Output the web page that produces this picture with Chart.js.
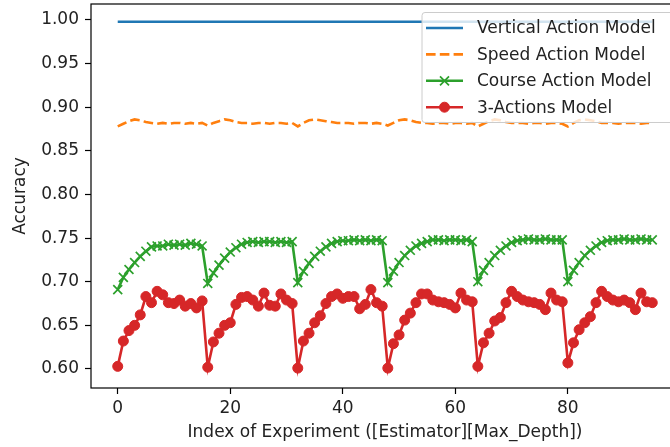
<!DOCTYPE html>
<html>
<head>
<meta charset="utf-8">
<script src="https://cdn.jsdelivr.net/npm/chart.js@4.4.1/dist/chart.umd.min.js"></script>
<style>
  html, body { margin: 0; padding: 0; background: #fff; overflow: hidden; }
  #wrap { width: 690px; height: 447px; }
</style>
</head>
<body>
<div id="wrap"><canvas id="grafico" width="690" height="447"></canvas></div>
<script>
const indices = [
  0,1,2,3,4,5,6,7,8,9,10,11,12,13,14,15,
  16,17,18,19,20,21,22,23,24,25,26,27,28,29,30,31,
  32,33,34,35,36,37,38,39,40,41,42,43,44,45,46,47,
  48,49,50,51,52,53,54,55,56,57,58,59,60,61,62,63,
  64,65,66,67,68,69,70,71,72,73,74,75,76,77,78,79,
  80,81,82,83,84,85,86,87,88,89,90,91,92,93,94,95
];
const vertical = [
  0.998,0.998,0.998,0.998,0.998,0.998,0.998,0.998,0.998,0.998,0.998,0.998,0.998,0.998,0.998,0.998,
  0.998,0.998,0.998,0.998,0.998,0.998,0.998,0.998,0.998,0.998,0.998,0.998,0.998,0.998,0.998,0.998,
  0.998,0.998,0.998,0.998,0.998,0.998,0.998,0.998,0.998,0.998,0.998,0.998,0.998,0.998,0.998,0.998,
  0.998,0.998,0.998,0.998,0.998,0.998,0.998,0.998,0.998,0.998,0.998,0.998,0.998,0.998,0.998,0.998,
  0.998,0.998,0.998,0.998,0.998,0.998,0.998,0.998,0.998,0.998,0.998,0.998,0.998,0.998,0.998,0.998,
  0.998,0.998,0.998,0.998,0.998,0.998,0.998,0.998,0.998,0.998,0.998,0.998,0.998,0.998,0.998,0.998
];
const speed = [
  0.878,0.881,0.884,0.886,0.885,0.883,0.882,0.881,0.882,0.881,0.882,0.882,0.881,0.882,0.881,0.882,
  0.879,0.882,0.884,0.886,0.885,0.883,0.882,0.882,0.881,0.882,0.882,0.881,0.882,0.882,0.881,0.882,
  0.878,0.882,0.885,0.886,0.885,0.884,0.883,0.882,0.882,0.882,0.881,0.882,0.882,0.881,0.882,0.881,
  0.879,0.882,0.885,0.886,0.885,0.883,0.882,0.882,0.881,0.882,0.882,0.881,0.882,0.882,0.881,0.882,
  0.878,0.881,0.884,0.886,0.885,0.883,0.882,0.882,0.882,0.881,0.882,0.882,0.881,0.882,0.882,0.881,
  0.878,0.882,0.885,0.886,0.885,0.884,0.882,0.882,0.882,0.881,0.882,0.882,0.882,0.881,0.882,0.882
];
const course = [
  0.691,0.705,0.714,0.722,0.729,0.735,0.740,0.741,0.741,0.743,0.742,0.743,0.742,0.744,0.743,0.741,
  0.698,0.710,0.719,0.727,0.734,0.739,0.743,0.745,0.746,0.745,0.746,0.746,0.745,0.746,0.745,0.746,
  0.699,0.712,0.721,0.729,0.735,0.740,0.744,0.746,0.747,0.747,0.748,0.747,0.748,0.747,0.748,0.747,
  0.699,0.712,0.722,0.730,0.736,0.741,0.744,0.746,0.748,0.748,0.747,0.748,0.748,0.747,0.748,0.746,
  0.700,0.713,0.722,0.730,0.736,0.741,0.745,0.747,0.748,0.749,0.748,0.748,0.749,0.748,0.748,0.748,
  0.700,0.713,0.722,0.730,0.736,0.741,0.745,0.747,0.748,0.748,0.749,0.748,0.748,0.749,0.748,0.748
];
const tresAcoes = [
  0.603,0.632,0.644,0.650,0.662,0.683,0.676,0.689,0.685,0.676,0.675,0.679,0.672,0.675,0.670,0.678,
  0.602,0.631,0.641,0.650,0.653,0.674,0.682,0.683,0.679,0.672,0.687,0.673,0.672,0.686,0.679,0.675,
  0.601,0.632,0.641,0.653,0.661,0.675,0.683,0.686,0.681,0.683,0.683,0.669,0.674,0.691,0.676,0.672,
  0.601,0.629,0.639,0.656,0.664,0.676,0.686,0.686,0.679,0.677,0.676,0.674,0.670,0.687,0.679,0.677,
  0.603,0.630,0.641,0.655,0.659,0.676,0.689,0.683,0.679,0.677,0.676,0.674,0.668,0.687,0.679,0.677,
  0.607,0.630,0.645,0.653,0.660,0.676,0.689,0.683,0.679,0.677,0.679,0.676,0.668,0.687,0.677,0.676
];
const ticksX = [0, 20, 40, 60, 80];
const ticksY = [0.60, 0.65, 0.70, 0.75, 0.80, 0.85, 0.90, 0.95, 1.00];

function juntaPontos(valores){
    return indices.map((x, i) => ({ x: x, y: valores[i] }));
}

Chart.defaults.font.family = "'DejaVu Sans', sans-serif";
Chart.defaults.font.size = 17;
Chart.defaults.color = '#222';

// moldura em volta da area do grafico
const moldura = {
  id: 'moldura',
  afterDatasetsDraw(chart){
    const { ctx, chartArea: a } = chart;
    ctx.save();
    ctx.strokeStyle = '#000';
    ctx.lineWidth = 1.2;
    ctx.strokeRect(a.left, a.top, a.right - a.left, a.bottom - a.top);
    ctx.restore();
  }
};

// legenda dentro do grafico, canto superior direito
const legendaInterna = {
  id: 'legendaInterna',
  afterDraw(chart){
    const ctx = chart.ctx;
    const caixa = { x: 422, y: 12.5, w: 260, h: 110 };
    ctx.save();
    ctx.beginPath();
    ctx.roundRect(caixa.x, caixa.y, caixa.w, caixa.h, 3);
    ctx.fillStyle = 'rgba(255,255,255,0.8)';
    ctx.fill();
    ctx.strokeStyle = '#cccccc';
    ctx.lineWidth = 1;
    ctx.stroke();

    chart.data.datasets.forEach((ds, i) => {
      const y = 28 + i * 26.4;
      ctx.beginPath();
      ctx.setLineDash(ds.borderDash || []);
      ctx.strokeStyle = ds.borderColor;
      ctx.lineWidth = ds.borderWidth;
      ctx.moveTo(426, y);
      ctx.lineTo(463, y);
      ctx.stroke();
      ctx.setLineDash([]);
      if (ds.pointRadius > 0){
        ctx.fillStyle = ds.pointBackgroundColor;
        ctx.strokeStyle = ds.pointBorderColor;
        ctx.lineWidth = ds.pointBorderWidth;
        ctx.beginPath();
        if (ds.pointStyle === 'circle'){
          ctx.arc(444.5, y, ds.pointRadius, 0, Math.PI * 2);
          ctx.fill();
          ctx.stroke();
        } else {
          const d = 4.5;
          ctx.moveTo(444.5 - d, y - d); ctx.lineTo(444.5 + d, y + d);
          ctx.moveTo(444.5 - d, y + d); ctx.lineTo(444.5 + d, y - d);
          ctx.stroke();
        }
      }
      ctx.fillStyle = '#222';
      ctx.font = "17px 'DejaVu Sans'";
      ctx.textBaseline = 'middle';
      ctx.textAlign = 'left';
      ctx.fillText(ds.label, 477, y + 1);
    });
    ctx.restore();
  }
};

const graficoModelos = new Chart(document.getElementById('grafico'), {
  type: 'line',
  data: {
    datasets: [
      { label: 'Vertical Action Model', data: juntaPontos(vertical), borderColor: '#1f77b4', borderWidth: 2.6, pointRadius: 0, order: 4 },
      { label: 'Speed Action Model', data: juntaPontos(speed), borderColor: '#ff7f0e', borderWidth: 2.6, borderDash: [9.6, 4.2], pointRadius: 0, order: 3 },
      {
        label: 'Course Action Model', data: juntaPontos(course), borderColor: '#2ca02c', borderWidth: 2.6,
        pointStyle: 'crossRot', pointRadius: 6.3, pointBorderWidth: 1.7,
        pointBorderColor: '#2ca02c', pointBackgroundColor: '#2ca02c', order: 2
      },
      {
        label: '3-Actions Model', data: juntaPontos(tresAcoes), borderColor: '#d62728', borderWidth: 2.6,
        pointStyle: 'circle', pointRadius: 5, pointBorderWidth: 1,
        pointBorderColor: '#d62728', pointBackgroundColor: '#d62728', order: 1
      }
    ]
  },
  options: {
    responsive: false,
    animation: false,
    devicePixelRatio: 1,
    layout: { autoPadding: false, padding: { top: 4, right: 11, left: 0, bottom: 0 } },
    plugins: { legend: { display: false }, tooltip: { enabled: false } },
    elements: { line: { tension: 0 } },
    scales: {
      x: {
        type: 'linear', min: -4.75, max: 99.75,
        grid: { drawOnChartArea: false, drawTicks: true, tickLength: 6, color: '#000', tickWidth: 1.2 },
        border: { display: false },
        ticks: { padding: 4, maxRotation: 0, callback: (v) => v },
        afterBuildTicks: (scale) => { scale.ticks = ticksX.map(v => ({ value: v })); },
        afterFit: (scale) => { scale.height = 59; scale.paddingLeft = 0; scale.paddingRight = 0; },
        title: { display: true, text: 'Index of Experiment ([Estimator][Max_Depth])', padding: { top: 0, bottom: 4 }, color: '#222' }
      },
      y: {
        type: 'linear', min: 0.5782, max: 1.0183,
        grid: { drawOnChartArea: false, drawTicks: true, tickLength: 6, color: '#000', tickWidth: 1.2 },
        border: { display: false },
        ticks: { padding: 6, callback: (v) => Number(v).toFixed(2) },
        afterBuildTicks: (scale) => { scale.ticks = ticksY.map(v => ({ value: v })); },
        afterFit: (scale) => { scale.width = 91; scale.paddingTop = 0; scale.paddingBottom = 0; },
        title: { display: true, text: 'Accuracy', padding: { top: 10, bottom: 0 }, color: '#222' }
      }
    }
  },
  plugins: [moldura, legendaInterna]
});
</script>
</body>
</html>
